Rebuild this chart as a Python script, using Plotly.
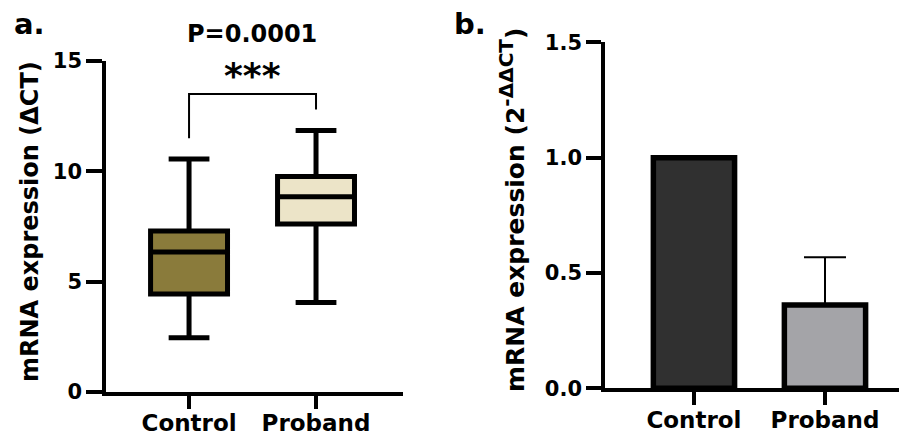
import plotly.graph_objects as go

# ---- data ----
groups = ["Control", "Proband"]
box_q1 = [4.44, 7.61]
box_median = [6.34, 8.85]
box_q3 = [7.30, 9.77]
box_low = [2.46, 4.06]
box_high = [10.56, 11.85]
box_colors = ["#8A7B3B", "#ECE4C8"]

bracket_y_left = 11.5
bracket_y_top = 13.5
bracket_y_right = 12.8
p_label = "P=0.0001"
sig_label = "***"

bar_values = [1.0, 0.361]
bar_err_up = [0.0, 0.207]
bar_colors = ["#303030", "#A4A4A8"]

ticks_a = [0, 5, 10, 15]
ticks_b = [0.0, 0.5, 1.0, 1.5]
ticks_b_text = ["0.0", "0.5", "1.0", "1.5"]

FONT = "DejaVu Sans"
# page body has an 8px margin: shrink the canvas and shift coordinates
OFF = 8
W, H = 907 - OFF, 437 - OFF

def px(x):
    return (x - OFF) / W

def py(y):
    return 1 - (y - OFF) / H

fig = go.Figure()

for i, g in enumerate(groups):
    fig.add_trace(go.Box(
        x=[i], q1=[box_q1[i]], median=[box_median[i]], q3=[box_q3[i]],
        lowerfence=[box_low[i]], upperfence=[box_high[i]],
        width=0.606, whiskerwidth=0.53,
        fillcolor=box_colors[i], line=dict(color="black", width=5),
        boxpoints=False, showlegend=False, hoverinfo="skip",
        xaxis="x", yaxis="y"))

fig.add_trace(go.Scatter(
    x=[0, 0, 1, 1],
    y=[bracket_y_left, bracket_y_top, bracket_y_top, bracket_y_right],
    mode="lines", line=dict(color="black", width=2),
    showlegend=False, hoverinfo="skip", cliponaxis=False,
    xaxis="x", yaxis="y"))

fig.add_trace(go.Bar(
    x=[0, 1], y=bar_values, width=0.62,
    marker=dict(color=bar_colors, line=dict(color="black", width=5.5)),
    error_y=dict(type="data", array=bar_err_up, arrayminus=[0, 0],
                 symmetric=False, color="black", thickness=2, width=21),
    showlegend=False, hoverinfo="skip", xaxis="x2", yaxis="y2"))

xtickfont = dict(family=FONT, size=23, color="black", weight="bold")
ytickfont = dict(family=FONT, size=21, color="black", weight="bold")
axis_common = dict(showline=True, linecolor="black", linewidth=3.5,
                   ticks="outside", tickcolor="black", tickwidth=3.5,
                   showgrid=False, zeroline=False,
                   automargin=False, fixedrange=True)

fig.update_layout(
    width=W, height=H, margin=dict(l=0, r=0, t=0, b=0, pad=0, autoexpand=False),
    paper_bgcolor="white", plot_bgcolor="white",
    xaxis=dict(domain=[px(106), px(403)], range=[-0.654, 1.685],
               tickvals=[0, 1], ticktext=groups, ticklen=13, tickfont=xtickfont,
               ticklabelstandoff=-5, anchor="y", **axis_common),
    yaxis=dict(domain=[py(392), py(61)], range=[0, 15],
               tickvals=ticks_a, ticklen=16, tickfont=ytickfont,
               anchor="x", **axis_common),
    xaxis2=dict(domain=[px(605), 1.0], range=[-0.679, 1.626],
                tickvals=[0, 1], ticktext=groups, ticklen=13, tickfont=xtickfont,
                ticklabelstandoff=-5, anchor="y2", **axis_common),
    yaxis2=dict(domain=[py(388.3), py(42.3)], range=[0, 1.5],
                tickvals=ticks_b, ticktext=ticks_b_text, ticklen=15, tickfont=ytickfont,
                anchor="x2", **axis_common),
)

def ann(text, x, y, size, angle=0, xanchor="center"):
    fig.add_annotation(text=text, x=px(x), y=py(y), xref="paper", yref="paper",
                       showarrow=False, textangle=angle, xanchor=xanchor, yanchor="middle",
                       font=dict(family=FONT, size=size, color="black", weight="bold"))

ann("a.", 12, 24, 29, xanchor="left")
ann("b.", 452, 24, 29, xanchor="left")
ann(p_label, 252, 34, 24)
ann(sig_label, 252, 75, 36)
ann("mRNA expression (ΔCT)", 30, 222, 24, angle=-90)
ann("mRNA expression (2<sup><span style='font-size:20px'>-ΔΔCT</span></sup>)",
    512, 210, 25, angle=-90)

fig.write_html("out.html")
